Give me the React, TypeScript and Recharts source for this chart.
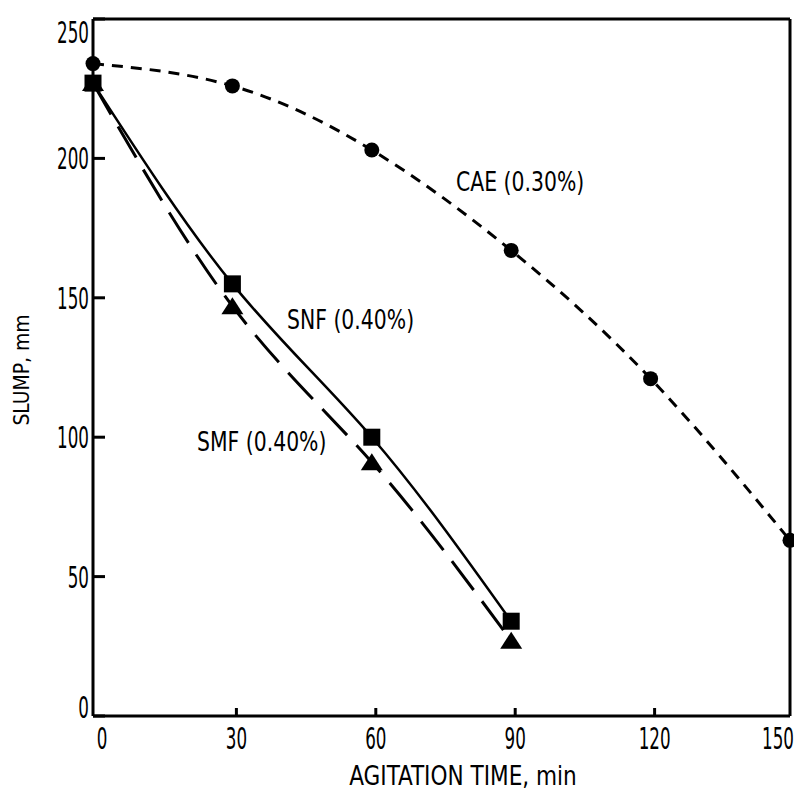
import React from "react";
import { ComposedChart, Line, XAxis, YAxis, Customized } from "recharts";

const times = [0, 30, 60, 90, 120, 150];
const caeValues = [234, 226, 203, 167, 121, 63];
const snfValues = [227, 155, 100, 34, null, null];
const smfValues = [227, 147, 91, 27, null, null];
const xTicks = [0, 30, 60, 90, 120, 150];
const yTicks = [0, 50, 100, 150, 200, 250];

const data = times.map((t, i) => ({ t, cae: caeValues[i], snf: snfValues[i], smf: smfValues[i] }));

const FONT = "'Liberation Sans Narrow', 'DejaVu Sans Condensed', 'Liberation Sans', sans-serif";

const T = ({ x, y, size, sx, anchor = "start", rotate = 0, children }: any) => (
  <text
    transform={`translate(${x},${y}) rotate(${rotate}) scale(${sx},1)`}
    fontFamily={FONT}
    fontSize={size}
    textAnchor={anchor}
    fill="#000"
  >
    {children}
  </text>
);

const YTick = (props: any) => {
  const { x, y, payload } = props;
  const v = payload.value;
  const dy = v === 0 ? -9 : v === 250 ? 13 : 0;
  return (
    <g>
      <line x1={x} y1={y} x2={x + 12} y2={y} stroke="#000" strokeWidth={3} />
      <T x={x - 4} y={y + dy + 11} size={31} sx={0.6} anchor="end">{v}</T>
    </g>
  );
};

const XTick = (props: any) => {
  const { x, y, payload } = props;
  const v = payload.value;
  const dx = v === 0 ? 9 : v === 150 ? -4 : 4;
  return (
    <g>
      {v !== 0 && v !== 150 && <line x1={x + 4} y1={y} x2={x + 4} y2={y - 8} stroke="#000" strokeWidth={3} />}
      <T x={x + dx} y={y + 33} size={31} sx={0.6} anchor="middle">{v}</T>
    </g>
  );
};

const Circle = (p: any) => (p.value == null ? <g /> : <circle cx={p.cx} cy={p.cy} r={7.5} fill="#000" />);
const Square = (p: any) => (p.value == null ? <g /> : <rect x={p.cx - 8.5} y={p.cy - 8.5} width={17} height={17} fill="#000" />);
const Tri = (p: any) =>
  p.value == null ? <g /> : <polygon points={`${p.cx - 11},${p.cy + 8} ${p.cx + 11},${p.cy + 8} ${p.cx},${p.cy - 9}`} fill="#000" />;

const Labels = () => (
  <g>
    <T x={456} y={191} size={27} sx={0.84}>CAE (0.30%)</T>
    <T x={287} y={329} size={27} sx={0.84}>SNF (0.40%)</T>
    <T x={197} y={451} size={27} sx={0.84}>SMF (0.40%)</T>
    <T x={463} y={785} size={27} sx={0.89} anchor="middle">AGITATION TIME, min</T>
    <T x={29} y={370} size={22} sx={0.95} anchor="middle" rotate={-90}>SLUMP, mm</T>
  </g>
);

export default function App() {
  return (
    <div style={{ width: 794, height: 796, background: "#fff" }}>
      <style>{"body{margin:0;overflow:hidden}"}</style>
      <ComposedChart width={794} height={796} data={data} margin={{ top: 18, right: 3, bottom: 0, left: 0 }}>
        <XAxis
          dataKey="t"
          type="number"
          domain={[0, 150]}
          ticks={xTicks}
          height={80}
          tickSize={0}
          tickMargin={0}
          tick={<XTick />}
          axisLine={{ stroke: "#000", strokeWidth: 3 }}
          tickLine={false}
        />
        <XAxis xAxisId="top" orientation="top" type="number" domain={[0, 150]} height={1} tick={false} axisLine={{ stroke: "#000", strokeWidth: 3 }} tickLine={false} />
        <YAxis
          type="number"
          domain={[0, 250]}
          ticks={yTicks}
          width={93}
          tickSize={0}
          tickMargin={0}
          tick={<YTick />}
          axisLine={{ stroke: "#000", strokeWidth: 3 }}
          tickLine={false}
        />
        <YAxis yAxisId="right" orientation="right" type="number" domain={[0, 250]} width={1} tick={false} axisLine={{ stroke: "#000", strokeWidth: 3 }} tickLine={false} />
        <Line dataKey="cae" type="natural" stroke="#000" strokeWidth={3} strokeDasharray="11 8" dot={<Circle />} activeDot={false} isAnimationActive={false} />
        <Line dataKey="snf" type="natural" stroke="#000" strokeWidth={2.5} dot={<Square />} activeDot={false} isAnimationActive={false} />
        <Line dataKey="smf" type="natural" stroke="#000" strokeWidth={3} strokeDasharray="36 14" dot={<Tri />} activeDot={false} isAnimationActive={false} />
        <Customized component={Labels} />
      </ComposedChart>
    </div>
  );
}
